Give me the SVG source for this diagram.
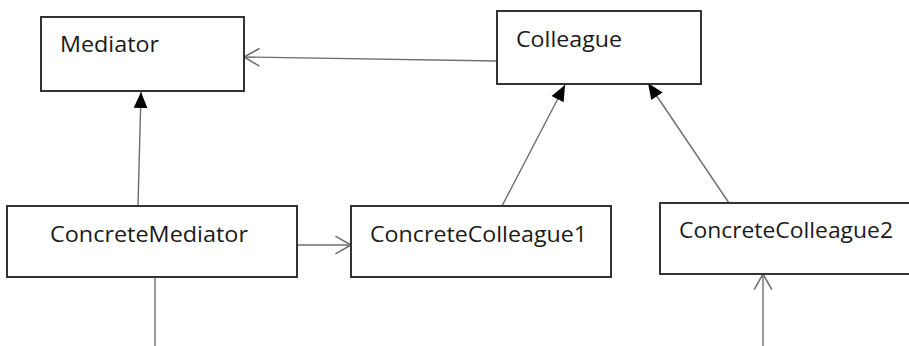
<svg xmlns="http://www.w3.org/2000/svg" width="909" height="346" viewBox="0 0 909 346">
<defs>
<style>
.box{fill:#fff;stroke:#333;stroke-width:2}
.lbl{font-family:"Open Sans","Noto Sans",sans-serif;font-size:22px;fill:#1a1a1a}
.con{fill:none;stroke:#6e6e6e;stroke-width:1.4}
</style>
<marker id="tri" markerUnits="userSpaceOnUse" markerWidth="16" markerHeight="16" viewBox="0 0 14 12" refX="14" refY="6" orient="auto">
<path d="M0,0 L14,6 L0,12 Z" fill="#000"/>
</marker>
<marker id="open" markerUnits="userSpaceOnUse" markerWidth="20" markerHeight="20" viewBox="0 0 16 18" refX="15" refY="9" orient="auto">
<path d="M1,1 L15,9 L1,17" fill="none" stroke="#6e6e6e" stroke-width="1.4"/>
</marker>
</defs>
<rect width="909" height="346" fill="#fff"/>
<g id="connectors">
<line class="con" x1="497" y1="61" x2="244" y2="57" marker-end="url(#open)"/>
<line class="con" x1="138" y1="206" x2="141" y2="92" marker-end="url(#tri)"/>
<line class="con" x1="297" y1="245" x2="351" y2="245" marker-end="url(#open)"/>
<line class="con" x1="502" y1="206" x2="565" y2="85" marker-end="url(#tri)"/>
<line class="con" x1="729" y1="203" x2="648" y2="83" marker-end="url(#tri)"/>
<line class="con" x1="763" y1="346" x2="763" y2="274" marker-end="url(#open)"/>
<line class="con" x1="155" y1="277" x2="155" y2="346"/>
</g>
<g id="mediator">
<rect class="box" x="41" y="17" width="203" height="74"/>
<text class="lbl" x="60" y="52" textLength="99" lengthAdjust="spacingAndGlyphs">Mediator</text>
</g>
<g id="colleague">
<rect class="box" x="497" y="11" width="204" height="73"/>
<text class="lbl" x="516" y="47" textLength="106" lengthAdjust="spacingAndGlyphs">Colleague</text>
</g>
<g id="concreteMediator">
<rect class="box" x="7" y="206" width="290" height="71"/>
<text class="lbl" x="50" y="242" textLength="198" lengthAdjust="spacingAndGlyphs">ConcreteMediator</text>
</g>
<g id="concreteColleague1">
<rect class="box" x="351" y="206" width="260" height="71"/>
<text class="lbl" x="370" y="242" textLength="217" lengthAdjust="spacingAndGlyphs">ConcreteColleague1</text>
</g>
<g id="concreteColleague2">
<rect class="box" x="660" y="203" width="260" height="71"/>
<text class="lbl" x="679" y="238" textLength="214" lengthAdjust="spacingAndGlyphs">ConcreteColleague2</text>
</g>
</svg>
